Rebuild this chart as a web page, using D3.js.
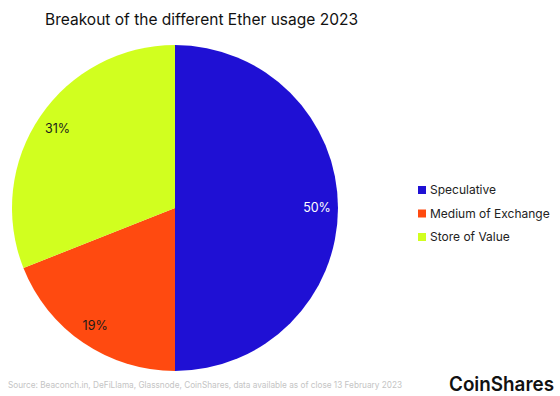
<!DOCTYPE html>
<html>
<head>
<meta charset="utf-8">
<script src="https://cdn.jsdelivr.net/npm/d3@7"></script>
<style>
  body { margin: 0; background: #fff; }
  svg { font-family: Inter, "Noto Sans", sans-serif; }
</style>
</head>
<body>
<svg id="chart"></svg>
<script>
// data
const categories = ["Speculative", "Medium of Exchange", "Store of Value"];
const shares = [50, 19, 31];
const colors = ["#1f10d4", "#ff4a10", "#d1ff1f"];
const labelColors = ["#ffffff", "#1a1a1a", "#1a1a1a"];

const width = 560, height = 396;
const svg = d3.select("#chart").attr("width", width).attr("height", height);

// title
svg.append("text")
  .attr("x", 45).attr("y", 25)
  .attr("font-size", "16px")
  .attr("fill", "#111")
  .attr("textLength", 313)
  .attr("lengthAdjust", "spacingAndGlyphs")
  .text("Breakout of the different Ether usage 2023");

// pie
const radius = 163;
const g = svg.append("g").attr("transform", `translate(175,208)`);

const pie = d3.pie().sort(null).value(d => d.v);
const arcs = pie(categories.map((c, i) => ({ c, v: shares[i], i })));
const arc = d3.arc().innerRadius(0).outerRadius(radius);
const labelArc = d3.arc().innerRadius(142).outerRadius(142);

g.selectAll("path")
  .data(arcs)
  .join("path")
  .attr("d", arc)
  .attr("fill", d => colors[d.data.i]);

g.selectAll("text")
  .data(arcs)
  .join("text")
  .attr("transform", d => `translate(${labelArc.centroid(d)})`)
  .attr("text-anchor", "middle")
  .attr("dy", "0.35em")
  .attr("font-size", "12.5px")
  .attr("fill", d => labelColors[d.data.i])
  .text(d => d.data.v + "%");

// legend
const legend = svg.append("g").attr("transform", "translate(418,184)");
const rows = legend.selectAll("g")
  .data(categories)
  .join("g")
  .attr("transform", (d, i) => `translate(0,${i * 23.5})`);
rows.append("rect")
  .attr("width", 8).attr("height", 8)
  .attr("y", 2)
  .attr("fill", (d, i) => colors[i]);
rows.append("text")
  .attr("x", 12).attr("y", 10)
  .attr("font-size", "12px")
  .attr("fill", "#222")
  .text(d => d);

// footer
svg.append("text")
  .attr("x", 8).attr("y", 388)
  .attr("font-size", "9px")
  .attr("fill", "#c4c4c4")
  .attr("textLength", 394)
  .attr("lengthAdjust", "spacingAndGlyphs")
  .text("Source: Beaconch.in, DeFiLlama, Glassnode, CoinShares, data available as of close 13 February 2023");

svg.append("text")
  .attr("x", 449).attr("y", 391)
  .attr("font-size", "20px")
  .attr("font-weight", "600")
  .attr("fill", "#111")
  .attr("textLength", 105)
  .attr("lengthAdjust", "spacingAndGlyphs")
  .text("CoinShares");
</script>
</body>
</html>
